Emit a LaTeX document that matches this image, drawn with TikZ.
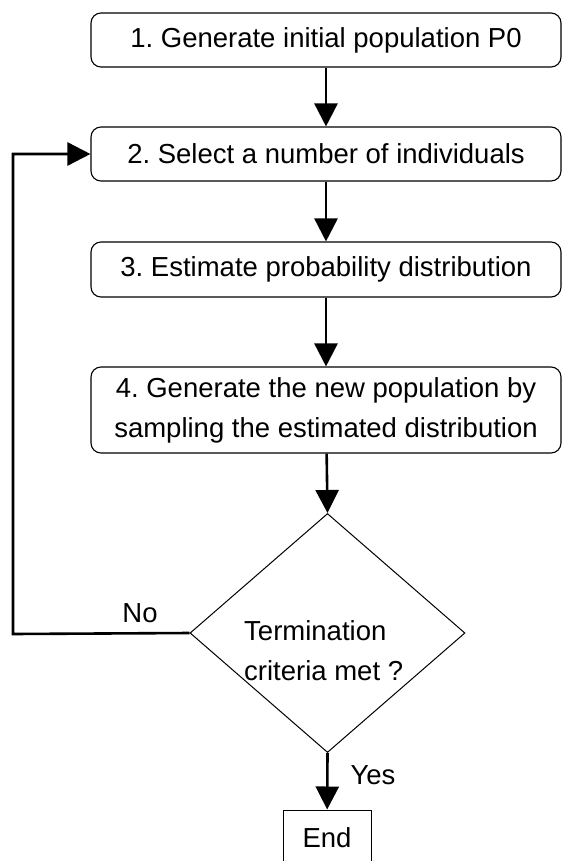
\documentclass[tikz,border=0pt]{standalone}
\usepackage{fontspec}
\setmainfont{Liberation Sans}
\usetikzlibrary{shapes.geometric,arrows.meta}
\frenchspacing
\begin{document}
\begin{tikzpicture}[x=1pt,y=-1pt,font=\fontsize{27.5}{40}\selectfont,
		stepbox/.style={draw,rounded corners=10pt,line width=1.1pt,minimum
				width=470pt,inner sep=0pt,align=center},
		decision/.style={draw,diamond,line width=1pt,minimum width=275pt,minimum
				height=239pt,inner sep=0pt},
		endbox/.style={draw,rectangle,line width=1pt,minimum width=88pt,minimum
				height=56pt,inner sep=0pt},
		arr/.style={line width=2.6pt,-{Triangle[length=23pt,width=23pt]}}]
	\clip (0,0) rectangle (562,861);
	\node[stepbox,minimum height=54pt] (s1) at (326,40) {1. Generate initial population P0};
	\node[stepbox,minimum height=54pt] (s2) at (326,154) {2. Select a number of individuals};
	\node[stepbox,minimum height=55pt] (s3) at (326,269.5) {3. Estimate probability distribution};
	\node[stepbox,minimum height=86pt] (s4) at (326,410) {4. Generate the new population by\\sampling the estimated distribution};
	\node[decision] (dec) at (327.5,633) {};
	\node[anchor=west,align=left,inner sep=0pt] (crit) at (244,651) {Termination\\criteria met ?};
	\node[endbox] (end) at (327,838) {End};
	\coordinate (back) at (13,634);
	\draw[arr] (s1) -- (s2);
	\draw[arr] (s2) -- (s3);
	\draw[arr] (s3) -- (s4);
	\draw[arr] (s4) -- (dec.north);
	\draw[arr] (dec.south) -- (end);
	\draw[arr] (dec.west) -- (back) |- (s2.west);
	\node (no) at (140,613) {No};
	\node (yes) at (373,775) {Yes};
\end{tikzpicture}
\end{document}
